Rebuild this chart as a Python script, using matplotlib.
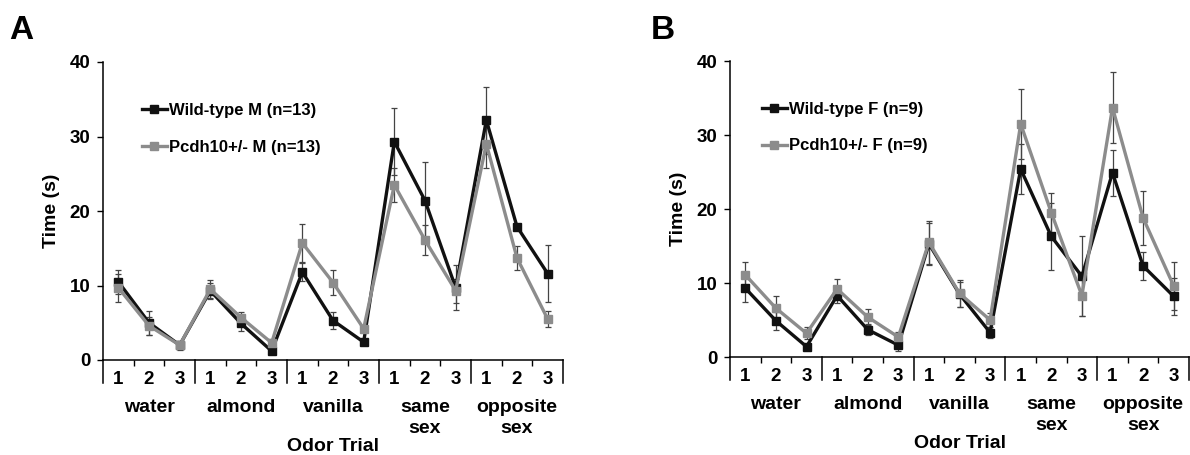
import numpy as np
import matplotlib
matplotlib.use("Agg")
import matplotlib.pyplot as plt

plt.rcParams['font.family'] = ['Liberation Sans', 'DejaVu Sans']
plt.rcParams['font.weight'] = 'bold'

odors = ["water", "almond", "vanilla", "same\nsex", "opposite\nsex"]
trials = ["1", "2", "3"]

# panel A (males)
wt_m = [10.5, 5.0, 2.0, 9.3, 4.9, 1.2, 11.8, 5.3, 2.4, 29.3, 21.4, 9.7, 32.2, 17.9, 11.6]
wt_m_err = [1.6, 1.6, 0.4, 1.1, 1.0, 0.3, 1.2, 1.2, 0.3, 4.5, 5.2, 3.0, 4.5, 0.4, 3.8]
ko_m = [9.7, 4.6, 2.0, 9.5, 5.7, 2.3, 15.7, 10.4, 4.2, 23.5, 16.1, 9.3, 29.0, 13.7, 5.5]
ko_m_err = [1.9, 1.2, 0.6, 1.2, 0.8, 0.5, 2.5, 1.7, 0.5, 2.3, 2.0, 1.6, 3.2, 1.6, 1.1]

# panel B (females)
wt_f = [9.3, 4.9, 1.4, 8.3, 3.7, 1.6, 15.3, 8.5, 3.3, 25.4, 16.3, 10.9, 24.9, 12.3, 8.2]
wt_f_err = [1.8, 1.2, 0.3, 1.0, 0.7, 0.8, 2.8, 1.7, 0.7, 3.4, 4.5, 5.4, 3.1, 1.9, 2.5]
ko_f = [11.1, 6.6, 3.2, 9.2, 5.4, 2.7, 15.5, 8.6, 5.0, 31.5, 19.5, 8.3, 33.7, 18.8, 9.6]
ko_f_err = [1.7, 1.7, 0.8, 1.4, 1.1, 0.7, 2.9, 1.8, 0.9, 4.7, 2.7, 2.8, 4.8, 3.6, 3.3]

BLACK = '#111111'
GRAY = '#8c8c8c'
ERR = '#444444'


def draw_panel(ax, wt, wt_err, ko, ko_err, wt_label, ko_label, leg_x):
    x = np.arange(len(wt))
    for y, e, c, lab in [(wt, wt_err, BLACK, wt_label), (ko, ko_err, GRAY, ko_label)]:
        ax.errorbar(x, y, yerr=e, fmt='none', ecolor=ERR, elinewidth=0.9,
                    capsize=2.2, capthick=0.9, zorder=2)
        ax.plot(x, y, color=c, lw=2.4, marker='s', ms=6.3, label=lab, zorder=3)

    ax.set_xlim(-0.5, 14.5)
    ax.set_ylim(0, 40)
    ax.set_yticks([0, 10, 20, 30, 40])
    ax.tick_params(axis='y', labelsize=13.5, length=4, width=1, pad=5)
    ax.set_xticks(x, trials * 5)
    ax.tick_params(axis='x', labelsize=13.5, length=0, pad=8)
    minor = [g * 3 + k + 0.5 for g in range(5) for k in range(2)]
    ax.set_xticks(minor, minor=True)
    ax.tick_params(axis='x', which='minor', length=4, width=1, direction='out')
    for lbl in ax.get_xticklabels() + ax.get_yticklabels():
        lbl.set_fontweight('bold')

    for s in ['top', 'right']:
        ax.spines[s].set_visible(False)
    for s in ['left', 'bottom']:
        ax.spines[s].set_linewidth(1.1)

    # group separators below the axis
    trans = ax.get_xaxis_transform()
    for b in [-0.5, 2.5, 5.5, 8.5, 11.5, 14.5]:
        ax.plot([b, b], [0, -0.078], color='black', lw=1.1, transform=trans,
                clip_on=False)

    for g, name in enumerate(odors):
        lines = name.split("\n")
        for i, ln in enumerate(lines):
            ax.annotate(ln, xy=(g * 3 + 1, 0), xycoords=trans,
                        xytext=(0, -34 - 15.5 * i), textcoords='offset points',
                        ha='center', va='center', fontsize=14, fontweight='bold')
    ax.annotate("Odor Trial", xy=(0.5, 0), xycoords='axes fraction',
                xytext=(0, -62.5), textcoords='offset points',
                ha='center', va='center', fontsize=14, fontweight='bold')

    ax.set_ylabel("Time (s)", fontsize=14, fontweight='bold', labelpad=7)
    ax.legend(loc='upper left', bbox_to_anchor=(leg_x, 0.885), frameon=False,
              prop={'size': 12, 'weight': 'bold'}, handlelength=1.5,
              handletextpad=0.1, labelspacing=1.3, borderaxespad=0)


fig = plt.figure(figsize=(11.9, 4.55), dpi=100)
ax_a = fig.add_axes([103 / 1190, 1 - 360 / 455, 460 / 1190, 298 / 455])
ax_b = fig.add_axes([730 / 1190, 1 - 357 / 455, 459 / 1190, 296 / 455])

draw_panel(ax_a, wt_m, wt_m_err, ko_m, ko_m_err,
           "Wild-type M (n=13)", "Pcdh10+/- M (n=13)", 0.07)
draw_panel(ax_b, wt_f, wt_f_err, ko_f, ko_f_err,
           "Wild-type F (n=9)", "Pcdh10+/- F (n=9)", 0.055)

fig.text(9 / 1190, 1 - 39 / 455, "A", fontsize=24, fontweight='bold')
fig.text(651 / 1190, 1 - 39 / 455, "B", fontsize=24, fontweight='bold')

fig.savefig("out.png", dpi=100)
